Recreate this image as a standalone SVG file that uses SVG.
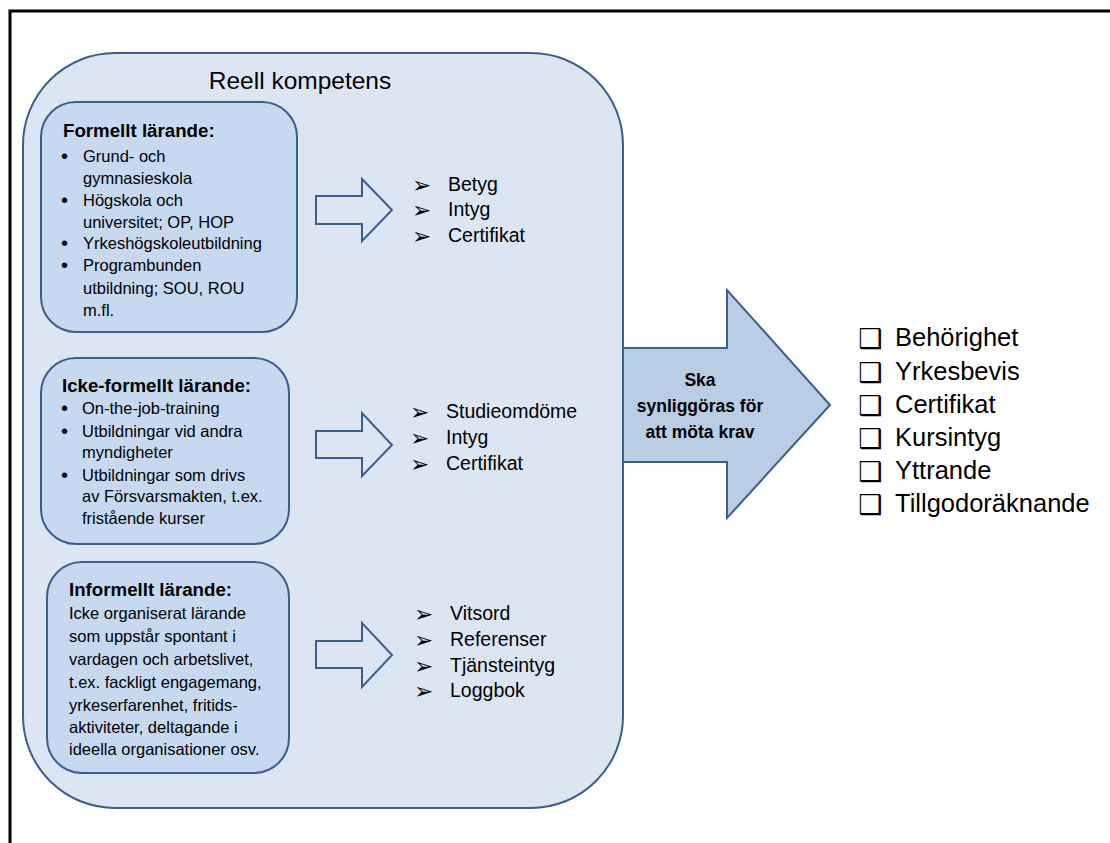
<svg xmlns="http://www.w3.org/2000/svg" width="1110" height="843" viewBox="0 0 1110 843">
<style>
.t{font-family:"Liberation Sans",Arial,sans-serif;fill:#000}
.body{font-size:16.5px}
.bul{font-size:20px}
.head{font-size:18.7px;font-weight:bold}
.lst{font-size:19.5px}
.chk{font-size:25.5px}
.box{fill:#c6d9f1;stroke:#3a5f8e;stroke-width:2}
.harrow{fill:#dce6f2;stroke:#3a5f8e;stroke-width:2}
.sym{font-family:"DejaVu Sans",sans-serif;fill:#000}
.arr{font-size:23px}
.cb{font-size:27px;font-weight:bold}
</style>
<rect width="1110" height="843" fill="#fff"/>
<rect x="10" y="11" width="1110" height="850" fill="none" stroke="#000" stroke-width="3"/>

<g id="reell-kompetens">
<rect x="23" y="53" width="600" height="755" rx="92" ry="92" fill="#dce6f2" stroke="#3a5f8e" stroke-width="2"/>
<text class="t" x="300" y="89" font-size="24.5" text-anchor="middle">Reell kompetens</text>
</g>

<g id="formellt">
<rect class="box" x="41" y="102" width="256" height="230" rx="35" ry="35"/>
<text class="t head" x="63" y="137">Formellt lärande:</text>
<g class="t body">
<text class="bul" x="61" y="163">•</text><text x="83" y="162">Grund- och</text>
<text x="83" y="184">gymnasieskola</text>
<text class="bul" x="61" y="207">•</text><text x="83" y="206">Högskola och</text>
<text x="83" y="228">universitet; OP, HOP</text>
<text class="bul" x="61" y="250">•</text><text x="83" y="249">Yrkeshögskoleutbildning</text>
<text class="bul" x="61" y="272">•</text><text x="83" y="271">Programbunden</text>
<text x="83" y="294">utbildning; SOU, ROU</text>
<text x="83" y="316">m.fl.</text>
</g>
</g>

<g id="icke-formellt">
<rect class="box" x="41" y="358" width="248" height="186" rx="35" ry="35"/>
<text class="t head" x="62" y="392">Icke-formellt lärande:</text>
<g class="t body">
<text class="bul" x="61" y="415">•</text><text x="82" y="414">On-the-job-training</text>
<text class="bul" x="61" y="438">•</text><text x="82" y="437">Utbildningar vid andra</text>
<text x="82" y="458">myndigheter</text>
<text class="bul" x="61" y="482">•</text><text x="82" y="481">Utbildningar som drivs</text>
<text x="82" y="502">av Försvarsmakten, t.ex.</text>
<text x="82" y="524">fristående kurser</text>
</g>
</g>

<g id="informellt">
<rect class="box" x="47" y="562" width="242" height="211" rx="35" ry="35"/>
<text class="t head" x="69" y="596">Informellt lärande:</text>
<g class="t body">
<text x="69" y="619">Icke organiserat lärande</text>
<text x="69" y="642">som uppstår spontant i</text>
<text x="69" y="665">vardagen och arbetslivet,</text>
<text x="69" y="688">t.ex. fackligt engagemang,</text>
<text x="69" y="711">yrkeserfarenhet, fritids-</text>
<text x="69" y="733">aktiviteter, deltagande i</text>
<text x="69" y="755">ideella organisationer osv.</text>
</g>
</g>

<g id="connectors">
<polygon class="harrow" points="316,196 362,196 362,179 392,210 362,241 362,224 316,224"/>
<polygon class="harrow" points="316,431 362,431 362,413 392,445 362,476 362,458 316,458"/>
<polygon class="harrow" points="316,641 362,641 362,623 392,655 362,687 362,668 316,668"/>
</g>

<g id="list-formellt">
<text class="sym arr" x="412" y="193">➢</text><text class="t lst" x="448" y="191">Betyg</text>
<text class="sym arr" x="412" y="218">➢</text><text class="t lst" x="448" y="216">Intyg</text>
<text class="sym arr" x="412" y="244">➢</text><text class="t lst" x="448" y="242">Certifikat</text>
</g>

<g id="list-icke-formellt">
<text class="sym arr" x="410" y="420">➢</text><text class="t lst" x="446" y="418">Studieomdöme</text>
<text class="sym arr" x="410" y="446">➢</text><text class="t lst" x="446" y="444">Intyg</text>
<text class="sym arr" x="410" y="472">➢</text><text class="t lst" x="446" y="470">Certifikat</text>
</g>

<g id="list-informellt">
<text class="sym arr" x="414" y="622">➢</text><text class="t lst" x="450" y="620">Vitsord</text>
<text class="sym arr" x="414" y="648">➢</text><text class="t lst" x="450" y="646">Referenser</text>
<text class="sym arr" x="414" y="674">➢</text><text class="t lst" x="450" y="672">Tjänsteintyg</text>
<text class="sym arr" x="414" y="699">➢</text><text class="t lst" x="450" y="697">Loggbok</text>
</g>

<g id="big-arrow">
<polygon points="623,348 727,348 727,290 830,405 727,518 727,462 623,462" fill="#b9cde5" stroke="#3a5f8e" stroke-width="2"/>
<g class="t" font-size="17.5" font-weight="bold" text-anchor="middle">
<text x="700" y="386">Ska</text>
<text x="700" y="412">synliggöras för</text>
<text x="700" y="438">att möta krav</text>
</g>
</g>

<g id="checklist">
<text class="sym cb" x="858" y="348">❑</text><text class="t chk" x="895" y="346">Behörighet</text>
<text class="sym cb" x="858" y="382">❑</text><text class="t chk" x="895" y="380">Yrkesbevis</text>
<text class="sym cb" x="858" y="415">❑</text><text class="t chk" x="895" y="413">Certifikat</text>
<text class="sym cb" x="858" y="448">❑</text><text class="t chk" x="895" y="446">Kursintyg</text>
<text class="sym cb" x="858" y="481">❑</text><text class="t chk" x="895" y="479">Yttrande</text>
<text class="sym cb" x="858" y="514">❑</text><text class="t chk" x="895" y="512">Tillgodoräknande</text>
</g>
</svg>
